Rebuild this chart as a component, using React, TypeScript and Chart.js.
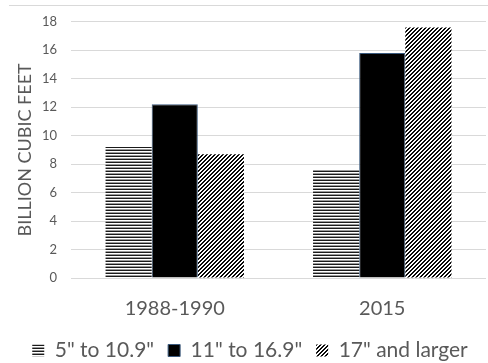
import React, { useEffect, useRef } from "react";
import { Chart, registerables } from "chart.js";

Chart.register(...registerables);

const categories = ["1988-1990", "2015"];
const seriesNames = ['5" to 10.9"', '11" to 16.9"', '17" and larger'];
const small = [9.2, 7.6];
const medium = [12.2, 15.8];
const large = [8.7, 17.6];
const yTicks = { min: 0, max: 18, step: 2 };

const FONT = "Lato, 'Open Sans', sans-serif";

function makeHStripes(): CanvasPattern | string {
  const c = document.createElement("canvas");
  c.width = 4;
  c.height = 3;
  const g = c.getContext("2d")!;
  g.fillStyle = "#ffffff";
  g.fillRect(0, 0, 4, 3);
  g.fillStyle = "#1a1a1a";
  g.fillRect(0, 0, 4, 1);
  g.fillStyle = "#9a9a9a";
  g.fillRect(0, 2, 4, 1);
  return g.createPattern(c, "repeat") || "#555";
}

function makeDiag(): CanvasPattern | string {
  const c = document.createElement("canvas");
  c.width = 4;
  c.height = 4;
  const g = c.getContext("2d")!;
  const img = g.createImageData(4, 4);
  for (let y = 0; y < 4; y++) {
    for (let x = 0; x < 4; x++) {
      const i = (y * 4 + x) * 4;
      const dark = (x + y) % 4 === 0 || (x + y) % 4 === 1;
      const v = dark ? 10 : 255;
      img.data[i] = v;
      img.data[i + 1] = v;
      img.data[i + 2] = v;
      img.data[i + 3] = 255;
    }
  }
  g.putImageData(img, 0, 0);
  return g.createPattern(c, "repeat") || "#555";
}

const topLine = {
  id: "topLine",
  beforeDraw(chart: any) {
    const ctx = chart.ctx;
    ctx.save();
    ctx.strokeStyle = "#d9d9d9";
    ctx.lineWidth = 1;
    ctx.beginPath();
    ctx.moveTo(9, 5.5);
    ctx.lineTo(chart.width, 5.5);
    ctx.stroke();
    ctx.restore();
  },
};

export default function App() {
  const ref = useRef<HTMLCanvasElement>(null);
  useEffect(() => {
    const chart = new Chart(ref.current!, {
      type: "bar",
      data: {
        labels: categories,
        datasets: [
          {
            label: seriesNames[0],
            data: small,
            backgroundColor: makeHStripes() as any,
            borderWidth: 0,
          },
          {
            label: seriesNames[1],
            data: medium,
            backgroundColor: "#000000",
            borderColor: "#3b5a7e",
            borderWidth: 1,
          },
          {
            label: seriesNames[2],
            data: large,
            backgroundColor: makeDiag() as any,
            borderWidth: 0,
          },
        ],
      },
      options: {
        animation: false,
        responsive: false,
        maintainAspectRatio: false,
        layout: { padding: { top: 21, right: 2, left: 14, bottom: -8 } },
        datasets: {
          bar: { categoryPercentage: 0.667, barPercentage: 1 },
        },
        plugins: {
          legend: {
            position: "bottom",
            labels: {
              color: "#595959",
              font: { family: FONT, size: 21 },
              boxWidth: 12,
              boxHeight: 12,
              padding: 14,
            },
          },
          tooltip: { enabled: false },
        },
        scales: {
          x: {
            grid: { display: false, drawTicks: false },
            border: { display: false },
            ticks: {
              color: "#595959",
              font: { family: FONT, size: 20 },
              padding: 19,
            },
            afterFit: (s: any) => {
              s.height = 48;
            },
          },
          y: {
            min: yTicks.min,
            max: yTicks.max,
            grid: { color: "#d9d9d9", drawTicks: false },
            border: { display: false },
            ticks: {
              stepSize: yTicks.step,
              color: "#595959",
              font: { family: FONT, size: 13 },
              padding: 14,
            },
            title: {
              display: true,
              text: "BILLION CUBIC FEET",
              color: "#595959",
              font: { family: FONT, size: 18 },
              padding: { top: 0, bottom: 4 },
            },
            afterFit: (s: any) => {
              s.width = 57;
            },
          },
        },
      },
      plugins: [topLine],
    });
    return () => chart.destroy();
  }, []);
  return (
    <div style={{ position: "fixed", left: 0, top: 0, width: 488, height: 363, background: "#fff" }}>
      <canvas ref={ref} width={488} height={363} style={{ width: 488, height: 363 }} />
    </div>
  );
}
